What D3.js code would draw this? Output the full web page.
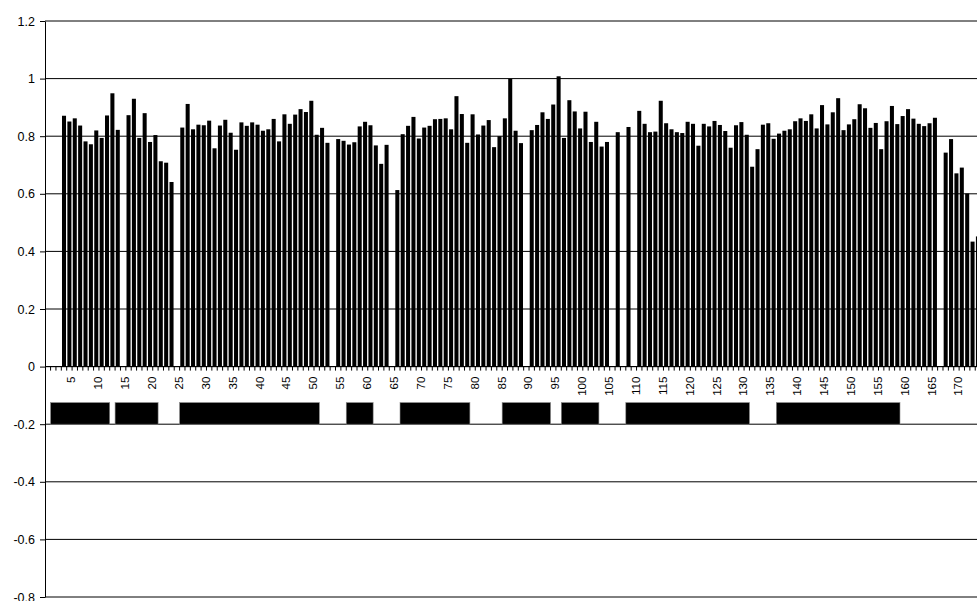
<!DOCTYPE html>
<html>
<head>
<meta charset="utf-8">
<script src="https://cdn.jsdelivr.net/npm/d3@7/dist/d3.min.js"></script>
<style>
  html, body { margin: 0; padding: 0; background: #fff; overflow: hidden; }
  svg { display: block; font-family: "Liberation Sans", Arial, sans-serif; }
</style>
</head>
<body>
<svg id="chart" width="977" height="601"></svg>
<script>
// Residue numbers on the category axis
const residues = d3.range(1, 177);

// Per-residue values (null = no value for that residue)
const values = [
  null, null, null, 0.871, 0.851, 0.862, 0.837, 0.782, 0.772, 0.820,
  0.794, 0.872, 0.949, 0.822, null, 0.873, 0.930, 0.794, 0.880, 0.780,
  0.804, 0.713, 0.708, 0.641, null, 0.830, 0.912, 0.824, 0.840, 0.838,
  0.854, 0.758, 0.837, 0.857, 0.812, 0.753, 0.848, 0.836, 0.848, 0.840,
  0.819, 0.824, 0.860, 0.782, 0.876, 0.843, 0.875, 0.894, 0.884, 0.923,
  0.805, 0.829, 0.777, null, 0.790, 0.784, 0.771, 0.779, 0.834, 0.850,
  0.838, 0.768, 0.704, 0.770, null, 0.613, 0.807, 0.836, 0.867, 0.792,
  0.830, 0.836, 0.859, 0.860, 0.862, 0.824, 0.939, 0.877, 0.777, 0.876,
  0.806, 0.837, 0.856, 0.762, 0.800, 0.862, 0.999, 0.819, 0.776, null,
  0.821, 0.839, 0.883, 0.860, 0.910, 1.008, 0.794, 0.925, 0.886, 0.827,
  0.885, 0.780, 0.850, 0.764, 0.780, null, 0.814, null, 0.832, null,
  0.888, 0.843, 0.814, 0.816, 0.923, 0.845, 0.824, 0.814, 0.811, 0.850,
  0.843, 0.767, 0.843, 0.834, 0.853, 0.839, 0.818, 0.760, 0.838, 0.849,
  0.805, 0.694, 0.755, 0.840, 0.845, 0.791, 0.809, 0.819, 0.824, 0.852,
  0.862, 0.853, 0.876, 0.827, 0.908, 0.841, 0.883, 0.932, 0.821, 0.841,
  0.859, 0.911, 0.897, 0.829, 0.846, 0.755, 0.852, 0.905, 0.842, 0.870,
  0.894, 0.861, 0.843, 0.835, 0.845, 0.864, null, 0.743, 0.790, 0.671,
  0.691, 0.601, 0.434, 0.452, null, null
];

// Value-axis ticks
const yTicks = [-0.8, -0.6, -0.4, -0.2, 0, 0.2, 0.4, 0.6, 0.8, 1, 1.2];

// Segment blocks drawn under the axis (first and last residue of each)
const segStart = [2, 14, 26, 57, 67, 86, 97, 109, 137];
const segEnd   = [12, 21, 51, 61, 79, 94, 103, 131, 159];
const segTop = -0.125, segBottom = -0.2;

const svg = d3.select("#chart");
const W = 977;
const left = 45.2, step = 5.376;

const x = d3.scaleBand()
  .domain(residues)
  .range([left, left + residues.length * step])
  .paddingInner(0.25)
  .paddingOuter(0.125);

const y = d3.scaleLinear().domain([-0.8, 1.2]).range([597, 21]);

// Horizontal gridlines
svg.append("g")
  .selectAll("line")
  .data(yTicks)
  .join("line")
  .attr("x1", 45).attr("x2", W)
  .attr("y1", d => y(d)).attr("y2", d => y(d))
  .attr("stroke", "#000").attr("stroke-width", 1);

// Bars
svg.append("g")
  .selectAll("rect")
  .data(residues.map((r, i) => ({ r, v: values[i] })).filter(d => d.v != null))
  .join("rect")
  .attr("x", d => x(d.r))
  .attr("width", x.bandwidth())
  .attr("y", d => y(d.v))
  .attr("height", d => y(0) - y(d.v))
  .attr("fill", "#000");

// Segment blocks
const gap = (x.step() - x.bandwidth()) / 2;
svg.append("g")
  .selectAll("rect")
  .data(segStart.map((s, i) => ({ s, e: segEnd[i] })))
  .join("rect")
  .attr("x", d => x(d.s) - gap)
  .attr("width", d => x(d.e) + x.bandwidth() + gap - (x(d.s) - gap))
  .attr("y", y(segTop))
  .attr("height", y(segBottom) - y(segTop))
  .attr("fill", "#000")
  .attr("stroke", "#888")
  .attr("stroke-width", 0.6);

// Category axis at zero: line, ticks between categories, labels every 5
const y0 = y(0);
const xAxis = svg.append("g");
xAxis.append("line")
  .attr("x1", 45).attr("x2", W)
  .attr("y1", y0).attr("y2", y0)
  .attr("stroke", "#000");
xAxis.selectAll("line.tick")
  .data(residues)
  .join("line")
  .attr("class", "tick")
  .attr("x1", d => x(d) + x.bandwidth() + gap)
  .attr("x2", d => x(d) + x.bandwidth() + gap)
  .attr("y1", y0).attr("y2", y0 + 4)
  .attr("stroke", "#000");
xAxis.selectAll("text")
  .data(residues.filter(r => r % 5 === 0))
  .join("text")
  .attr("transform", d => `translate(${x(d) + x.bandwidth() / 2 + 2},${y0 + 10}) rotate(-90)`)
  .attr("text-anchor", "end")
  .attr("dy", "0.35em")
  .attr("font-size", 11.5)
  .attr("fill", "#000")
  .text(d => d);

// Value axis
const yAxis = svg.append("g")
  .attr("transform", "translate(45,0)")
  .call(d3.axisLeft(y)
    .tickValues(yTicks)
    .tickSize(5)
    .tickSizeOuter(0)
    .tickPadding(5)
    .tickFormat(d => String(+d.toFixed(1))));
yAxis.select(".domain").attr("stroke", "#000");
yAxis.selectAll(".tick line").attr("stroke", "#000");
yAxis.selectAll(".tick text")
  .attr("font-size", 12.5)
  .attr("font-family", "'Liberation Sans', Arial, sans-serif")
  .attr("fill", "#000");
</script>
</body>
</html>
